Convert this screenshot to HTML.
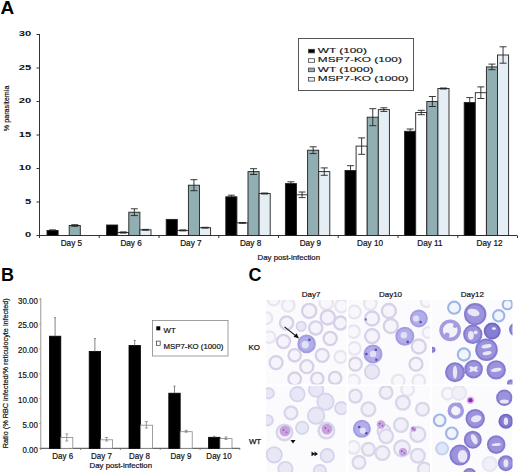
<!DOCTYPE html>
<html><head><meta charset="utf-8"><style>
html,body{margin:0;padding:0;background:#fff;}
svg{display:block;}
</style></head><body>
<svg width="520" height="472" viewBox="0 0 520 472">
<defs><clipPath id="p00"><rect x="266" y="300" width="80.5" height="84.4"/></clipPath><clipPath id="p01"><rect x="348.5" y="300" width="81.5" height="84.4"/></clipPath><clipPath id="p02"><rect x="432" y="300" width="80.5" height="84.4"/></clipPath><clipPath id="p10"><rect x="266" y="386" width="80.5" height="86"/></clipPath><clipPath id="p11"><rect x="348.5" y="386" width="81.5" height="86"/></clipPath><clipPath id="p12"><rect x="432" y="386" width="80.5" height="86"/></clipPath><filter id="bl" x="-5%" y="-5%" width="110%" height="110%"><feGaussianBlur stdDeviation="0.7"/></filter></defs>
<text x="0.6" y="13.9" font-family="Liberation Sans, sans-serif" font-size="19" font-weight="bold">A</text>
<line x1="39.5" y1="34" x2="39.5" y2="235.5" stroke="#333" stroke-width="1"/>
<line x1="36.5" y1="235.5" x2="39.5" y2="235.5" stroke="#333" stroke-width="1"/>
<text transform="translate(31.2,237.1) scale(1.75,1)" text-anchor="end" font-family="Liberation Sans, sans-serif" font-size="6.4" font-weight="bold" fill="#111">0</text>
<line x1="36.5" y1="202.0" x2="39.5" y2="202.0" stroke="#333" stroke-width="1"/>
<text transform="translate(31.2,203.6) scale(1.75,1)" text-anchor="end" font-family="Liberation Sans, sans-serif" font-size="6.4" font-weight="bold" fill="#111">5</text>
<line x1="36.5" y1="168.5" x2="39.5" y2="168.5" stroke="#333" stroke-width="1"/>
<text transform="translate(31.2,170.1) scale(1.75,1)" text-anchor="end" font-family="Liberation Sans, sans-serif" font-size="6.4" font-weight="bold" fill="#111">10</text>
<line x1="36.5" y1="135.0" x2="39.5" y2="135.0" stroke="#333" stroke-width="1"/>
<text transform="translate(31.2,136.6) scale(1.75,1)" text-anchor="end" font-family="Liberation Sans, sans-serif" font-size="6.4" font-weight="bold" fill="#111">15</text>
<line x1="36.5" y1="101.5" x2="39.5" y2="101.5" stroke="#333" stroke-width="1"/>
<text transform="translate(31.2,103.1) scale(1.75,1)" text-anchor="end" font-family="Liberation Sans, sans-serif" font-size="6.4" font-weight="bold" fill="#111">20</text>
<line x1="36.5" y1="68.0" x2="39.5" y2="68.0" stroke="#333" stroke-width="1"/>
<text transform="translate(31.2,69.6) scale(1.75,1)" text-anchor="end" font-family="Liberation Sans, sans-serif" font-size="6.4" font-weight="bold" fill="#111">25</text>
<line x1="36.5" y1="34.5" x2="39.5" y2="34.5" stroke="#333" stroke-width="1"/>
<text transform="translate(31.2,36.1) scale(1.75,1)" text-anchor="end" font-family="Liberation Sans, sans-serif" font-size="6.4" font-weight="bold" fill="#111">30</text>
<text transform="translate(9,108.4) rotate(-90)" text-anchor="middle" font-family="Liberation Sans, sans-serif" font-size="7.2" fill="#111" stroke="#111" stroke-width="0.2">% parasitemia</text>
<line x1="39.0" y1="235.5" x2="517" y2="235.5" stroke="#333" stroke-width="1"/>
<line x1="39.5" y1="235.5" x2="39.5" y2="238.0" stroke="#333" stroke-width="1"/>
<line x1="99.2" y1="235.5" x2="99.2" y2="238.0" stroke="#333" stroke-width="1"/>
<line x1="159.0" y1="235.5" x2="159.0" y2="238.0" stroke="#333" stroke-width="1"/>
<line x1="218.8" y1="235.5" x2="218.8" y2="238.0" stroke="#333" stroke-width="1"/>
<line x1="278.5" y1="235.5" x2="278.5" y2="238.0" stroke="#333" stroke-width="1"/>
<line x1="338.2" y1="235.5" x2="338.2" y2="238.0" stroke="#333" stroke-width="1"/>
<line x1="398.0" y1="235.5" x2="398.0" y2="238.0" stroke="#333" stroke-width="1"/>
<line x1="457.8" y1="235.5" x2="457.8" y2="238.0" stroke="#333" stroke-width="1"/>
<line x1="517.5" y1="235.5" x2="517.5" y2="238.0" stroke="#333" stroke-width="1"/>
<rect x="47.00" y="230.5" width="11.1" height="5.0" fill="#000" stroke="#222" stroke-width="0.9"/>
<path d="M52.55 229.9V230.5M49.05 229.9h7" stroke="#222" stroke-width="0.9" fill="none"/>
<rect x="69.20" y="225.5" width="11.1" height="10.0" fill="#91aeb3" stroke="#222" stroke-width="0.9"/>
<path d="M74.75 224.7V226.3M71.25 224.7h7M71.25 226.3h7" stroke="#222" stroke-width="0.9" fill="none"/>
<text x="71.4" y="246.2" text-anchor="middle" font-family="Liberation Sans, sans-serif" font-size="8.2" fill="#111" stroke="#111" stroke-width="0.2">Day 5</text>
<rect x="106.60" y="225.0" width="11.1" height="10.5" fill="#000" stroke="#222" stroke-width="0.9"/>
<rect x="117.70" y="232.5" width="11.1" height="3.0" fill="#fff" stroke="#222" stroke-width="0.9"/>
<path d="M123.25 231.9V233.1M119.75 231.9h7M119.75 233.1h7" stroke="#222" stroke-width="0.9" fill="none"/>
<rect x="128.80" y="212.2" width="11.1" height="23.3" fill="#91aeb3" stroke="#222" stroke-width="0.9"/>
<path d="M134.35 208.8V215.6M130.85 208.8h7M130.85 215.6h7" stroke="#222" stroke-width="0.9" fill="none"/>
<rect x="139.90" y="229.8" width="11.1" height="5.7" fill="#e5eef5" stroke="#222" stroke-width="0.9"/>
<path d="M145.45 229.4V230.2M141.95 229.4h7M141.95 230.2h7" stroke="#222" stroke-width="0.9" fill="none"/>
<text x="131.1" y="246.2" text-anchor="middle" font-family="Liberation Sans, sans-serif" font-size="8.2" fill="#111" stroke="#111" stroke-width="0.2">Day 6</text>
<rect x="166.20" y="219.4" width="11.1" height="16.1" fill="#000" stroke="#222" stroke-width="0.9"/>
<rect x="177.30" y="230.4" width="11.1" height="5.1" fill="#fff" stroke="#222" stroke-width="0.9"/>
<path d="M182.85 229.9V230.9M179.35 229.9h7M179.35 230.9h7" stroke="#222" stroke-width="0.9" fill="none"/>
<rect x="188.40" y="185.2" width="11.1" height="50.3" fill="#91aeb3" stroke="#222" stroke-width="0.9"/>
<path d="M193.95 179.7V190.7M190.45 179.7h7M190.45 190.7h7" stroke="#222" stroke-width="0.9" fill="none"/>
<rect x="199.50" y="227.7" width="11.1" height="7.8" fill="#e5eef5" stroke="#222" stroke-width="0.9"/>
<path d="M205.05 227.3V228.1M201.55 227.3h7M201.55 228.1h7" stroke="#222" stroke-width="0.9" fill="none"/>
<text x="190.9" y="246.2" text-anchor="middle" font-family="Liberation Sans, sans-serif" font-size="8.2" fill="#111" stroke="#111" stroke-width="0.2">Day 7</text>
<rect x="225.80" y="196.8" width="11.1" height="38.7" fill="#000" stroke="#222" stroke-width="0.9"/>
<path d="M231.35 195.2V196.8M227.85 195.2h7" stroke="#222" stroke-width="0.9" fill="none"/>
<rect x="236.90" y="222.9" width="11.1" height="12.6" fill="#fff" stroke="#222" stroke-width="0.9"/>
<path d="M242.45 222.5V223.3M238.95 222.5h7M238.95 223.3h7" stroke="#222" stroke-width="0.9" fill="none"/>
<rect x="248.00" y="171.6" width="11.1" height="63.9" fill="#91aeb3" stroke="#222" stroke-width="0.9"/>
<path d="M253.55 168.7V174.5M250.05 168.7h7M250.05 174.5h7" stroke="#222" stroke-width="0.9" fill="none"/>
<rect x="259.10" y="193.5" width="11.1" height="42.0" fill="#e5eef5" stroke="#222" stroke-width="0.9"/>
<path d="M264.65 193.0V194.0M261.15 193.0h7M261.15 194.0h7" stroke="#222" stroke-width="0.9" fill="none"/>
<text x="250.6" y="246.2" text-anchor="middle" font-family="Liberation Sans, sans-serif" font-size="8.2" fill="#111" stroke="#111" stroke-width="0.2">Day 8</text>
<rect x="285.40" y="183.6" width="11.1" height="51.9" fill="#000" stroke="#222" stroke-width="0.9"/>
<path d="M290.95 181.8V183.6M287.45 181.8h7" stroke="#222" stroke-width="0.9" fill="none"/>
<rect x="296.50" y="194.8" width="11.1" height="40.7" fill="#fff" stroke="#222" stroke-width="0.9"/>
<path d="M302.05 192.0V197.6M298.55 192.0h7M298.55 197.6h7" stroke="#222" stroke-width="0.9" fill="none"/>
<rect x="307.60" y="150.2" width="11.1" height="85.3" fill="#91aeb3" stroke="#222" stroke-width="0.9"/>
<path d="M313.15 146.8V153.6M309.65 146.8h7M309.65 153.6h7" stroke="#222" stroke-width="0.9" fill="none"/>
<rect x="318.70" y="171.6" width="11.1" height="63.9" fill="#e5eef5" stroke="#222" stroke-width="0.9"/>
<path d="M324.25 167.9V175.3M320.75 167.9h7M320.75 175.3h7" stroke="#222" stroke-width="0.9" fill="none"/>
<text x="310.4" y="246.2" text-anchor="middle" font-family="Liberation Sans, sans-serif" font-size="8.2" fill="#111" stroke="#111" stroke-width="0.2">Day 9</text>
<rect x="345.00" y="170.5" width="11.1" height="65.0" fill="#000" stroke="#222" stroke-width="0.9"/>
<path d="M350.55 165.7V170.5M347.05 165.7h7" stroke="#222" stroke-width="0.9" fill="none"/>
<rect x="356.10" y="146.1" width="11.1" height="89.4" fill="#fff" stroke="#222" stroke-width="0.9"/>
<path d="M361.65 137.9V154.3M358.15 137.9h7M358.15 154.3h7" stroke="#222" stroke-width="0.9" fill="none"/>
<rect x="367.20" y="117.2" width="11.1" height="118.3" fill="#91aeb3" stroke="#222" stroke-width="0.9"/>
<path d="M372.75 108.7V125.7M369.25 108.7h7M369.25 125.7h7" stroke="#222" stroke-width="0.9" fill="none"/>
<rect x="378.30" y="109.6" width="11.1" height="125.9" fill="#e5eef5" stroke="#222" stroke-width="0.9"/>
<path d="M383.85 107.8V111.4M380.35 107.8h7M380.35 111.4h7" stroke="#222" stroke-width="0.9" fill="none"/>
<text x="370.1" y="246.2" text-anchor="middle" font-family="Liberation Sans, sans-serif" font-size="8.2" fill="#111" stroke="#111" stroke-width="0.2">Day 10</text>
<rect x="404.60" y="131.3" width="11.1" height="104.2" fill="#000" stroke="#222" stroke-width="0.9"/>
<path d="M410.15 129.0V131.3M406.65 129.0h7" stroke="#222" stroke-width="0.9" fill="none"/>
<rect x="415.70" y="112.5" width="11.1" height="123.0" fill="#fff" stroke="#222" stroke-width="0.9"/>
<path d="M421.25 110.3V114.7M417.75 110.3h7M417.75 114.7h7" stroke="#222" stroke-width="0.9" fill="none"/>
<rect x="426.80" y="101.5" width="11.1" height="134.0" fill="#91aeb3" stroke="#222" stroke-width="0.9"/>
<path d="M432.35 96.5V106.5M428.85 96.5h7M428.85 106.5h7" stroke="#222" stroke-width="0.9" fill="none"/>
<rect x="437.90" y="88.5" width="11.1" height="147.0" fill="#e5eef5" stroke="#222" stroke-width="0.9"/>
<path d="M443.45 88.0V89.0M439.95 88.0h7M439.95 89.0h7" stroke="#222" stroke-width="0.9" fill="none"/>
<text x="429.9" y="246.2" text-anchor="middle" font-family="Liberation Sans, sans-serif" font-size="8.2" fill="#111" stroke="#111" stroke-width="0.2">Day 11</text>
<rect x="464.20" y="102.5" width="11.1" height="133.0" fill="#000" stroke="#222" stroke-width="0.9"/>
<path d="M469.75 97.6V102.5M466.25 97.6h7" stroke="#222" stroke-width="0.9" fill="none"/>
<rect x="475.30" y="92.7" width="11.1" height="142.8" fill="#fff" stroke="#222" stroke-width="0.9"/>
<path d="M480.85 86.9V98.5M477.35 86.9h7M477.35 98.5h7" stroke="#222" stroke-width="0.9" fill="none"/>
<rect x="486.40" y="66.9" width="11.1" height="168.6" fill="#91aeb3" stroke="#222" stroke-width="0.9"/>
<path d="M491.95 64.1V69.7M488.45 64.1h7M488.45 69.7h7" stroke="#222" stroke-width="0.9" fill="none"/>
<rect x="497.50" y="55.0" width="11.1" height="180.5" fill="#e5eef5" stroke="#222" stroke-width="0.9"/>
<path d="M503.05 46.8V63.2M499.55 46.8h7M499.55 63.2h7" stroke="#222" stroke-width="0.9" fill="none"/>
<text x="489.6" y="246.2" text-anchor="middle" font-family="Liberation Sans, sans-serif" font-size="8.2" fill="#111" stroke="#111" stroke-width="0.2">Day 12</text>
<text x="288.8" y="260.2" text-anchor="middle" font-family="Liberation Sans, sans-serif" font-size="7.8" fill="#111" stroke="#111" stroke-width="0.2">Day post-infection</text>
<rect x="298.5" y="38.5" width="115" height="52" fill="#fff" stroke="#555" stroke-width="1"/>
<rect x="308.5" y="49.3" width="6" height="3.6" fill="#000" stroke="#444" stroke-width="0.8"/>
<text transform="translate(317.8,52.9) scale(1.85,1)" font-family="Liberation Sans, sans-serif" font-size="6.4" fill="#111" stroke="#111" stroke-width="0.12">WT (100)</text>
<rect x="308.5" y="58.7" width="6" height="3.6" fill="#fff" stroke="#444" stroke-width="0.8"/>
<text transform="translate(317.8,62.3) scale(1.85,1)" font-family="Liberation Sans, sans-serif" font-size="6.4" fill="#111" stroke="#111" stroke-width="0.12">MSP7-KO (100)</text>
<rect x="308.5" y="68.1" width="6" height="3.6" fill="#91aeb3" stroke="#444" stroke-width="0.8"/>
<text transform="translate(317.8,71.7) scale(1.85,1)" font-family="Liberation Sans, sans-serif" font-size="6.4" fill="#111" stroke="#111" stroke-width="0.12">WT (1000)</text>
<rect x="308.5" y="77.5" width="6" height="3.6" fill="#e5eef5" stroke="#444" stroke-width="0.8"/>
<text transform="translate(317.8,81.1) scale(1.85,1)" font-family="Liberation Sans, sans-serif" font-size="6.4" fill="#111" stroke="#111" stroke-width="0.12">MSP7-KO (1000)</text>
<text x="1" y="280.8" font-family="Liberation Sans, sans-serif" font-size="18" font-weight="bold">B</text>
<line x1="40.8" y1="298" x2="40.8" y2="448.3" stroke="#999" stroke-width="1"/>
<line x1="39.3" y1="448.3" x2="40.8" y2="448.3" stroke="#999" stroke-width="1"/>
<text transform="translate(37.8,452.7) scale(0.95,1)" text-anchor="end" font-family="Liberation Sans, sans-serif" font-size="8.3" fill="#111" stroke="#111" stroke-width="0.2">0.00</text>
<line x1="39.3" y1="423.4" x2="40.8" y2="423.4" stroke="#999" stroke-width="1"/>
<text transform="translate(37.8,427.8) scale(0.95,1)" text-anchor="end" font-family="Liberation Sans, sans-serif" font-size="8.3" fill="#111" stroke="#111" stroke-width="0.2">5.00</text>
<line x1="39.3" y1="398.6" x2="40.8" y2="398.6" stroke="#999" stroke-width="1"/>
<text transform="translate(37.8,403.0) scale(0.95,1)" text-anchor="end" font-family="Liberation Sans, sans-serif" font-size="8.3" fill="#111" stroke="#111" stroke-width="0.2">10.00</text>
<line x1="39.3" y1="373.8" x2="40.8" y2="373.8" stroke="#999" stroke-width="1"/>
<text transform="translate(37.8,378.1) scale(0.95,1)" text-anchor="end" font-family="Liberation Sans, sans-serif" font-size="8.3" fill="#111" stroke="#111" stroke-width="0.2">15.00</text>
<line x1="39.3" y1="348.9" x2="40.8" y2="348.9" stroke="#999" stroke-width="1"/>
<text transform="translate(37.8,353.3) scale(0.95,1)" text-anchor="end" font-family="Liberation Sans, sans-serif" font-size="8.3" fill="#111" stroke="#111" stroke-width="0.2">20.00</text>
<line x1="39.3" y1="324.1" x2="40.8" y2="324.1" stroke="#999" stroke-width="1"/>
<text transform="translate(37.8,328.4) scale(0.95,1)" text-anchor="end" font-family="Liberation Sans, sans-serif" font-size="8.3" fill="#111" stroke="#111" stroke-width="0.2">25.00</text>
<line x1="39.3" y1="299.2" x2="40.8" y2="299.2" stroke="#999" stroke-width="1"/>
<text transform="translate(37.8,303.6) scale(0.95,1)" text-anchor="end" font-family="Liberation Sans, sans-serif" font-size="8.3" fill="#111" stroke="#111" stroke-width="0.2">30.00</text>
<text transform="translate(8.4,373.2) rotate(-90)" text-anchor="middle" font-family="Liberation Sans, sans-serif" font-size="7.5" fill="#111" stroke="#111" stroke-width="0.2" textLength="150" lengthAdjust="spacingAndGlyphs">Ratio (% RBC infected/% reticulocyte infected)</text>
<line x1="40.8" y1="448.3" x2="239.8" y2="448.3" stroke="#444" stroke-width="1"/>
<line x1="40.8" y1="448.3" x2="40.8" y2="449.8" stroke="#666" stroke-width="1"/>
<line x1="80.6" y1="448.3" x2="80.6" y2="449.8" stroke="#666" stroke-width="1"/>
<line x1="120.4" y1="448.3" x2="120.4" y2="449.8" stroke="#666" stroke-width="1"/>
<line x1="160.2" y1="448.3" x2="160.2" y2="449.8" stroke="#666" stroke-width="1"/>
<line x1="200.0" y1="448.3" x2="200.0" y2="449.8" stroke="#666" stroke-width="1"/>
<line x1="239.8" y1="448.3" x2="239.8" y2="449.8" stroke="#666" stroke-width="1"/>
<rect x="49.40" y="336.2" width="11.4" height="112.1" fill="#000" stroke="#000" stroke-width="0.8"/>
<path d="M55.10 317.7V336.2M54.10 317.7h2" stroke="#666" stroke-width="0.8" fill="none"/>
<rect x="60.80" y="437.5" width="12" height="10.8" fill="#fff" stroke="#888" stroke-width="0.8"/>
<path d="M66.80 433.9V441.0M65.30 433.9h3M65.30 441.0h3" stroke="#777" stroke-width="0.7" fill="none"/>
<text transform="translate(62.7,459.1) scale(0.95,1)" text-anchor="middle" font-family="Liberation Sans, sans-serif" font-size="8.4" fill="#111" stroke="#111" stroke-width="0.2">Day 6</text>
<rect x="89.20" y="351.4" width="11.4" height="96.9" fill="#000" stroke="#000" stroke-width="0.8"/>
<path d="M94.90 338.6V351.4M93.90 338.6h2" stroke="#666" stroke-width="0.8" fill="none"/>
<rect x="100.60" y="439.8" width="12" height="8.5" fill="#fff" stroke="#888" stroke-width="0.8"/>
<path d="M106.60 437.5V441.0M105.10 437.5h3M105.10 441.0h3" stroke="#777" stroke-width="0.7" fill="none"/>
<text transform="translate(101.4,459.1) scale(0.95,1)" text-anchor="middle" font-family="Liberation Sans, sans-serif" font-size="8.4" fill="#111" stroke="#111" stroke-width="0.2">Day 7</text>
<rect x="129.00" y="345.5" width="11.4" height="102.8" fill="#000" stroke="#000" stroke-width="0.8"/>
<path d="M134.70 340.4V345.5M133.70 340.4h2" stroke="#666" stroke-width="0.8" fill="none"/>
<rect x="140.40" y="425.2" width="12" height="23.1" fill="#fff" stroke="#888" stroke-width="0.8"/>
<path d="M146.40 421.6V428.0M144.90 421.6h3M144.90 428.0h3" stroke="#777" stroke-width="0.7" fill="none"/>
<text transform="translate(139.4,459.1) scale(0.95,1)" text-anchor="middle" font-family="Liberation Sans, sans-serif" font-size="8.4" fill="#111" stroke="#111" stroke-width="0.2">Day 8</text>
<rect x="168.80" y="393.2" width="11.4" height="55.1" fill="#000" stroke="#000" stroke-width="0.8"/>
<path d="M174.50 386.1V393.2M173.50 386.1h2" stroke="#666" stroke-width="0.8" fill="none"/>
<rect x="180.20" y="431.7" width="12" height="16.6" fill="#fff" stroke="#888" stroke-width="0.8"/>
<path d="M186.20 430.3V432.2M184.70 430.3h3M184.70 432.2h3" stroke="#777" stroke-width="0.7" fill="none"/>
<text transform="translate(181.0,459.1) scale(0.95,1)" text-anchor="middle" font-family="Liberation Sans, sans-serif" font-size="8.4" fill="#111" stroke="#111" stroke-width="0.2">Day 9</text>
<rect x="208.60" y="437.3" width="11.4" height="11.0" fill="#000" stroke="#000" stroke-width="0.8"/>
<path d="M214.30 436.3V437.3M213.30 436.3h2" stroke="#666" stroke-width="0.8" fill="none"/>
<rect x="220.00" y="438.6" width="12" height="9.7" fill="#fff" stroke="#888" stroke-width="0.8"/>
<path d="M226.00 437.0V439.5M224.50 437.0h3M224.50 439.5h3" stroke="#777" stroke-width="0.7" fill="none"/>
<text transform="translate(219.0,459.1) scale(0.95,1)" text-anchor="middle" font-family="Liberation Sans, sans-serif" font-size="8.4" fill="#111" stroke="#111" stroke-width="0.2">Day 10</text>
<text x="120.8" y="468.1" text-anchor="middle" font-family="Liberation Sans, sans-serif" font-size="7.8" fill="#111" stroke="#111" stroke-width="0.2">Day post-infection</text>
<rect x="152.5" y="320.5" width="75.5" height="35.5" fill="#fff" stroke="#888" stroke-width="0.8"/>
<rect x="156.3" y="326.3" width="4" height="4" fill="#000"/>
<rect x="156.6" y="341.1" width="3.6" height="4.2" fill="#fff" stroke="#333" stroke-width="0.7"/>
<text x="163.6" y="333" font-family="Liberation Sans, sans-serif" font-size="7.8" fill="#111" stroke="#111" stroke-width="0.2">WT</text>
<text x="163.6" y="348.5" font-family="Liberation Sans, sans-serif" font-size="7.8" fill="#111" stroke="#111" stroke-width="0.2">MSP7-KO (1000)</text>
<text x="248.5" y="281.3" font-family="Liberation Sans, sans-serif" font-size="18" font-weight="bold">C</text>
<text x="311" y="296.5" text-anchor="middle" font-family="Liberation Sans, sans-serif" font-size="8" fill="#111" stroke="#111" stroke-width="0.2">Day7</text>
<text x="390.5" y="296.5" text-anchor="middle" font-family="Liberation Sans, sans-serif" font-size="8" fill="#111" stroke="#111" stroke-width="0.2">Day10</text>
<text x="472.4" y="296.5" text-anchor="middle" font-family="Liberation Sans, sans-serif" font-size="8" fill="#111" stroke="#111" stroke-width="0.2">Day12</text>
<text x="248.4" y="349.8" font-family="Liberation Sans, sans-serif" font-size="7.9" fill="#111" stroke="#111" stroke-width="0.25">KO</text>
<text x="248.9" y="443.7" font-family="Liberation Sans, sans-serif" font-size="7.9" fill="#111" stroke="#111" stroke-width="0.25">WT</text>
<g clip-path="url(#p00)"><rect x="266" y="300" width="80.5" height="84.4" fill="#fbfafd"/><g filter="url(#bl)">
<circle cx="288.2" cy="305.3" r="6.3" fill="#f8f7fb" stroke="#e8e5f1" stroke-width="2.3"/>
<circle cx="273.7" cy="299.6" r="5.8" fill="#f8f7fb" stroke="#e8e5f1" stroke-width="2.3"/>
<circle cx="309.2" cy="310.9" r="7.1" fill="#f6f4fa" stroke="#d6d1e7" stroke-width="2.3"/>
<circle cx="326.2" cy="302.8" r="6.8" fill="#f8f7fb" stroke="#e8e5f1" stroke-width="2.3"/>
<circle cx="327.8" cy="317.4" r="7.1" fill="#f6f4fa" stroke="#d6d1e7" stroke-width="2.3"/>
<circle cx="341.5" cy="306.0" r="6.3" fill="#f8f7fb" stroke="#e8e5f1" stroke-width="2.3"/>
<circle cx="266.4" cy="318.2" r="5.8" fill="#f8f7fb" stroke="#e8e5f1" stroke-width="2.3"/>
<circle cx="286.6" cy="323.0" r="6.6" fill="#f6f4fa" stroke="#d6d1e7" stroke-width="2.3"/>
<circle cx="301.2" cy="326.3" r="4.7" fill="#e8e7f5" stroke="#d6d4ec" stroke-width="1.8"/>
<circle cx="315.7" cy="327.9" r="6.6" fill="#f6f4fa" stroke="#d6d1e7" stroke-width="2.3"/>
<circle cx="340.5" cy="323.0" r="6.5" fill="#f6f4fa" stroke="#d6d1e7" stroke-width="2.3"/>
<circle cx="269.5" cy="337.1" r="5.8" fill="#f8f7fb" stroke="#e8e5f1" stroke-width="2.3"/>
<circle cx="283.5" cy="341.5" r="6.6" fill="#f6f4fa" stroke="#d6d1e7" stroke-width="2.3"/>
<circle cx="306.6" cy="343.9" r="8.3" fill="#b2aee9" stroke="#a39de2" stroke-width="2"/><circle cx="305.2" cy="344.8" r="3.7" fill="#e2e0f8"/><circle cx="309.4" cy="339.7" r="1.3" fill="#5a50a8"/>
<circle cx="330.2" cy="338.5" r="6.6" fill="#f6f4fa" stroke="#d6d1e7" stroke-width="2.3"/>
<circle cx="294.7" cy="355.3" r="6.2" fill="#f6f4fa" stroke="#d6d1e7" stroke-width="2.3"/>
<circle cx="322.2" cy="355.3" r="6.5" fill="#f6f4fa" stroke="#d6d1e7" stroke-width="2.3"/>
<circle cx="340.5" cy="357.0" r="6.0" fill="#f8f7fb" stroke="#e8e5f1" stroke-width="2.3"/>
<circle cx="276.1" cy="362.6" r="6.5" fill="#f6f4fa" stroke="#d6d1e7" stroke-width="2.3"/>
<circle cx="306.8" cy="366.7" r="6.5" fill="#f6f4fa" stroke="#d6d1e7" stroke-width="2.3"/>
<circle cx="294.7" cy="378.8" r="6.3" fill="#f6f4fa" stroke="#d6d1e7" stroke-width="2.3"/>
<circle cx="317.3" cy="378.8" r="6.2" fill="#f6f4fa" stroke="#d6d1e7" stroke-width="2.3"/>
<circle cx="335.1" cy="378.0" r="6.2" fill="#f6f4fa" stroke="#d6d1e7" stroke-width="2.3"/>
</g></g>
<g clip-path="url(#p01)"><rect x="348.5" y="300" width="81.5" height="84.4" fill="#fbfafd"/><g filter="url(#bl)">
<circle cx="370.3" cy="303.6" r="6.3" fill="#f8f7fb" stroke="#e8e5f1" stroke-width="2.3"/>
<circle cx="354.4" cy="312.0" r="6.3" fill="#f8f7fb" stroke="#e8e5f1" stroke-width="2.3"/>
<circle cx="372.1" cy="318.5" r="7.0" fill="#f6f4fa" stroke="#d6d1e7" stroke-width="2.3"/>
<circle cx="365.8" cy="319.5" r="1.2" fill="#7a70c0"/>
<circle cx="388.9" cy="311.0" r="7.0" fill="#f6f4fa" stroke="#d6d1e7" stroke-width="2.3"/>
<circle cx="390.8" cy="326.0" r="7.0" fill="#f6f4fa" stroke="#d6d1e7" stroke-width="2.3"/>
<circle cx="418.8" cy="318.5" r="8.0" fill="#b2aee9" stroke="#a39de2" stroke-width="2"/><circle cx="416.1" cy="318.5" r="3.1" fill="#e2e0f8"/><circle cx="420.6" cy="322.1" r="1.3" fill="#5a50a8"/>
<circle cx="426.2" cy="301.7" r="5.3" fill="#f8f7fb" stroke="#e8e5f1" stroke-width="2.3"/>
<circle cx="353.5" cy="331.6" r="6.3" fill="#f8f7fb" stroke="#e8e5f1" stroke-width="2.3"/>
<circle cx="372.1" cy="336.2" r="7.0" fill="#f6f4fa" stroke="#d6d1e7" stroke-width="2.3"/>
<circle cx="404.8" cy="336.2" r="8.5" fill="#b2aee9" stroke="#a39de2" stroke-width="2"/><circle cx="403.9" cy="335.2" r="3.3" fill="#e2e0f8"/><circle cx="407.7" cy="341.9" r="1.3" fill="#5a50a8"/>
<circle cx="428.0" cy="332.5" r="5.3" fill="#f8f7fb" stroke="#e8e5f1" stroke-width="2.3"/>
<circle cx="354.4" cy="348.4" r="6.3" fill="#f8f7fb" stroke="#e8e5f1" stroke-width="2.3"/>
<circle cx="373.0" cy="354.0" r="8.5" fill="#b2aee9" stroke="#a39de2" stroke-width="2"/><circle cx="373.0" cy="354.0" r="3.3" fill="#e2e0f8"/><circle cx="366.4" cy="354.0" r="1.3" fill="#5a50a8"/><circle cx="375.9" cy="349.7" r="1.3" fill="#5a50a8"/><circle cx="376.3" cy="359.7" r="1.3" fill="#5a50a8"/>
<circle cx="418.8" cy="346.5" r="7.0" fill="#f6f4fa" stroke="#d6d1e7" stroke-width="2.3"/>
<circle cx="355.3" cy="364.2" r="6.5" fill="#f6f4fa" stroke="#d6d1e7" stroke-width="2.3"/>
<circle cx="372.1" cy="371.7" r="7.2" fill="#e8e7f5" stroke="#d6d4ec" stroke-width="1.8"/>
<circle cx="416.0" cy="364.2" r="6.5" fill="#f6f4fa" stroke="#d6d1e7" stroke-width="2.3"/>
<circle cx="398.2" cy="381.0" r="6.3" fill="#f8f7fb" stroke="#e8e5f1" stroke-width="2.3"/>
<circle cx="418.8" cy="381.0" r="6.3" fill="#f8f7fb" stroke="#e8e5f1" stroke-width="2.3"/>
<circle cx="353.5" cy="381.0" r="6.3" fill="#f8f7fb" stroke="#e8e5f1" stroke-width="2.3"/>
</g></g>
<g clip-path="url(#p02)"><rect x="432" y="300" width="80.5" height="84.4" fill="#fbfafd"/><g filter="url(#bl)">
<circle cx="454.2" cy="307.7" r="6.1" fill="#f0f4fc" stroke="#9fb5e4" stroke-width="2.1"/>
<circle cx="475.2" cy="314.2" r="10.2" fill="#9b94dc" stroke="#847cd0" stroke-width="2"/><ellipse cx="473.5" cy="312.5" rx="6.2" ry="3.6" transform="rotate(15 473.5 312.5)" fill="#ebe6f7"/>
<circle cx="498.7" cy="315.8" r="5.7" fill="#f0f4fc" stroke="#9fb5e4" stroke-width="2.1"/>
<circle cx="507.5" cy="304.5" r="4.8" fill="#f0f4fc" stroke="#9fb5e4" stroke-width="2.1"/>
<circle cx="450.2" cy="330.3" r="9.1" fill="#f3f1fa" stroke="#a39de0" stroke-width="3.6"/>
<circle cx="447.0" cy="335.0" r="2.5" fill="#a49ce0"/>
<circle cx="455.0" cy="326.0" r="2.0" fill="#a49ce0"/>
<circle cx="472.8" cy="334.3" r="8.7" fill="#9b94dc" stroke="#847cd0" stroke-width="2"/><ellipse cx="470.9" cy="335.3" rx="2.9" ry="4.4" transform="rotate(0 470.9 335.3)" fill="#ebe6f7"/><ellipse cx="475.7" cy="332.4" rx="1.9" ry="1.9" transform="rotate(0 475.7 332.4)" fill="#ebe6f7"/>
<circle cx="492.2" cy="331.1" r="7.5" fill="#857ed2" stroke="#726bc6" stroke-width="2"/><ellipse cx="493.9" cy="328.6" rx="2.1" ry="1.3" transform="rotate(0 493.9 328.6)" fill="#ebe6f7"/>
<circle cx="516.0" cy="329.5" r="6.0" fill="#9b94dc" stroke="#847cd0" stroke-width="2"/>
<circle cx="486.5" cy="349.7" r="10.3" fill="#9b94dc" stroke="#847cd0" stroke-width="2"/><ellipse cx="486.5" cy="346.3" rx="5.1" ry="2.0" transform="rotate(-10 486.5 346.3)" fill="#ebe6f7"/><ellipse cx="487.1" cy="353.1" rx="4.5" ry="2.0" transform="rotate(-10 487.1 353.1)" fill="#ebe6f7"/>
<circle cx="463.9" cy="354.5" r="6.1" fill="#f0f4fc" stroke="#9fb5e4" stroke-width="2.1"/>
<circle cx="432.5" cy="349.7" r="2.0" fill="#9b94dc" stroke="#847cd0" stroke-width="2"/>
<circle cx="455.0" cy="372.3" r="9.0" fill="#9b94dc" stroke="#847cd0" stroke-width="2"/><ellipse cx="455.0" cy="372.3" rx="2.2" ry="6.5" transform="rotate(0 455.0 372.3)" fill="#ebe6f7"/>
<circle cx="473.6" cy="369.1" r="8.3" fill="#9b94dc" stroke="#847cd0" stroke-width="2"/><ellipse cx="473.6" cy="369.1" rx="4.7" ry="1.7" transform="rotate(30 473.6 369.1)" fill="#ebe6f7"/><ellipse cx="473.6" cy="369.1" rx="4.7" ry="1.7" transform="rotate(-30 473.6 369.1)" fill="#ebe6f7"/>
<circle cx="496.2" cy="369.9" r="8.7" fill="#9b94dc" stroke="#847cd0" stroke-width="2"/><ellipse cx="496.2" cy="369.9" rx="5.3" ry="1.9" transform="rotate(-10 496.2 369.9)" fill="#ebe6f7"/>
<circle cx="511.0" cy="383.5" r="3.0" fill="#9b94dc" stroke="#847cd0" stroke-width="2"/>
</g></g>
<g clip-path="url(#p10)"><rect x="266" y="386" width="80.5" height="86" fill="#fbfafd"/><g filter="url(#bl)">
<circle cx="268.7" cy="393.3" r="5.2" fill="#e8e7f5" stroke="#d6d4ec" stroke-width="1.8"/>
<circle cx="297.5" cy="394.2" r="7.2" fill="#e8e7f5" stroke="#d6d4ec" stroke-width="1.8"/>
<circle cx="316.1" cy="389.6" r="7.2" fill="#e8e7f5" stroke="#d6d4ec" stroke-width="1.8"/>
<circle cx="325.5" cy="401.7" r="8.2" fill="#e8e7f5" stroke="#d6d4ec" stroke-width="1.8"/>
<circle cx="341.3" cy="408.2" r="6.2" fill="#e8e7f5" stroke="#d6d4ec" stroke-width="1.8"/>
<circle cx="291.0" cy="412.9" r="6.4" fill="#f1eff8" stroke="#d9d6ea" stroke-width="2.3"/>
<circle cx="316.1" cy="415.7" r="8.2" fill="#e8e7f5" stroke="#d6d4ec" stroke-width="1.8"/>
<circle cx="267.7" cy="420.3" r="5.2" fill="#e8e7f5" stroke="#d6d4ec" stroke-width="1.8"/>
<circle cx="284.5" cy="432.4" r="7.8" fill="#f2f0f8" stroke="#d8d4ea" stroke-width="2.4"/><circle cx="285.0" cy="430.9" r="5.4" fill="#c8a2dc"/><circle cx="283.5" cy="429.9" r="1" fill="#9a60b8"/><circle cx="286.5" cy="432.4" r="0.9" fill="#9a60b8"/>
<circle cx="302.2" cy="427.8" r="6.2" fill="#e8e7f5" stroke="#d6d4ec" stroke-width="1.8"/>
<circle cx="326.4" cy="430.6" r="7.8" fill="#f2f0f8" stroke="#d8d4ea" stroke-width="2.4"/><circle cx="326.9" cy="429.1" r="5.4" fill="#c8a2dc"/><circle cx="325.4" cy="428.1" r="1" fill="#9a60b8"/><circle cx="328.4" cy="430.6" r="0.9" fill="#9a60b8"/>
<circle cx="274.2" cy="454.8" r="7.7" fill="#e8e7f5" stroke="#d6d4ec" stroke-width="1.8"/>
<circle cx="327.3" cy="455.7" r="6.7" fill="#e8e7f5" stroke="#d6d4ec" stroke-width="1.8"/>
<circle cx="285.4" cy="469.0" r="7.2" fill="#e8e7f5" stroke="#d6d4ec" stroke-width="1.8"/>
<circle cx="319.9" cy="471.0" r="6.2" fill="#e8e7f5" stroke="#d6d4ec" stroke-width="1.8"/>
</g></g>
<g clip-path="url(#p11)"><rect x="348.5" y="386" width="81.5" height="86" fill="#fbfafd"/><g filter="url(#bl)">
<circle cx="355.3" cy="396.1" r="6.4" fill="#f1eff8" stroke="#d9d6ea" stroke-width="2.3"/>
<circle cx="386.1" cy="392.4" r="6.4" fill="#f1eff8" stroke="#d9d6ea" stroke-width="2.3"/>
<circle cx="407.6" cy="389.6" r="6.3" fill="#f8f7fb" stroke="#e8e5f1" stroke-width="2.3"/>
<circle cx="402.9" cy="402.7" r="6.9" fill="#f1eff8" stroke="#d9d6ea" stroke-width="2.3"/>
<circle cx="368.4" cy="409.2" r="6.9" fill="#f1eff8" stroke="#d9d6ea" stroke-width="2.3"/>
<circle cx="422.5" cy="409.2" r="6.4" fill="#f1eff8" stroke="#d9d6ea" stroke-width="2.3"/>
<circle cx="361.9" cy="428.8" r="8.0" fill="#b2aee9" stroke="#a39de2" stroke-width="2"/><circle cx="362.8" cy="430.6" r="3.1" fill="#e2e0f8"/><circle cx="359.2" cy="427.0" r="1.3" fill="#5a50a8"/><circle cx="366.4" cy="433.3" r="1.3" fill="#5a50a8"/>
<circle cx="384.0" cy="431.0" r="6.4" fill="#f1eff8" stroke="#d9d6ea" stroke-width="2.3"/>
<circle cx="381.0" cy="424.5" r="4.2" fill="#c8a6e0"/><circle cx="379.7" cy="423.7" r="0.9" fill="#8a50b0"/><circle cx="382.5" cy="425.8" r="0.8" fill="#8a50b0"/>
<circle cx="386.1" cy="436.2" r="6.9" fill="#f1eff8" stroke="#d9d6ea" stroke-width="2.3"/>
<circle cx="401.0" cy="425.0" r="6.9" fill="#f1eff8" stroke="#d9d6ea" stroke-width="2.3"/>
<circle cx="417.8" cy="434.4" r="7.4" fill="#f1eff8" stroke="#d9d6ea" stroke-width="2.3"/>
<circle cx="413.5" cy="429.0" r="2.8" fill="#c8a6e0"/><circle cx="412.7" cy="428.4" r="0.9" fill="#8a50b0"/><circle cx="414.5" cy="429.8" r="0.8" fill="#8a50b0"/>
<circle cx="353.5" cy="447.4" r="6.3" fill="#f8f7fb" stroke="#e8e5f1" stroke-width="2.3"/>
<circle cx="368.4" cy="449.3" r="6.4" fill="#f1eff8" stroke="#d9d6ea" stroke-width="2.3"/>
<circle cx="382.4" cy="453.0" r="6.9" fill="#f1eff8" stroke="#d9d6ea" stroke-width="2.3"/>
<circle cx="402.0" cy="448.4" r="7.9" fill="#f1eff8" stroke="#d9d6ea" stroke-width="2.3"/>
<circle cx="403.0" cy="452.0" r="4.0" fill="#c8a6e0"/><circle cx="401.8" cy="451.2" r="0.9" fill="#8a50b0"/><circle cx="404.4" cy="453.2" r="0.8" fill="#8a50b0"/>
<circle cx="417.8" cy="455.8" r="6.9" fill="#f1eff8" stroke="#d9d6ea" stroke-width="2.3"/>
<circle cx="359.0" cy="462.4" r="6.4" fill="#f1eff8" stroke="#d9d6ea" stroke-width="2.3"/>
<circle cx="424.4" cy="469.0" r="6.4" fill="#f1eff8" stroke="#d9d6ea" stroke-width="2.3"/>
</g></g>
<g clip-path="url(#p12)"><rect x="432" y="386" width="80.5" height="86" fill="#fbfafd"/><g filter="url(#bl)">
<circle cx="447.8" cy="393.7" r="5.8" fill="#f8f7fb" stroke="#e8e5f1" stroke-width="2.3"/>
<circle cx="459.1" cy="392.9" r="7.0" fill="#f0f0f8" stroke="#e6e6f2" stroke-width="2"/>
<circle cx="470.4" cy="400.2" r="3.8" fill="#e0b8e8"/><circle cx="470.4" cy="400.2" r="2.3" fill="#8a2ab8"/>
<circle cx="504.3" cy="397.7" r="7.2" fill="#9b94dc" stroke="#847cd0" stroke-width="2"/><ellipse cx="504.3" cy="401.4" rx="4.5" ry="2.0" transform="rotate(0 504.3 401.4)" fill="#ebe6f7"/>
<circle cx="455.8" cy="410.7" r="6.5" fill="#f3f1fa" stroke="#a39de0" stroke-width="3.6"/>
<circle cx="459.0" cy="405.0" r="2.5" fill="#a49ce0"/>
<circle cx="439.7" cy="420.3" r="5.8" fill="#f0f4fc" stroke="#9fb5e4" stroke-width="2.1"/>
<circle cx="475.2" cy="418.7" r="8.7" fill="#9b94dc" stroke="#847cd0" stroke-width="2"/><ellipse cx="476.2" cy="418.7" rx="5.3" ry="3.4" transform="rotate(-15 476.2 418.7)" fill="#ebe6f7"/>
<circle cx="505.9" cy="421.2" r="6.5" fill="#857ed2" stroke="#726bc6" stroke-width="2"/><ellipse cx="505.9" cy="421.2" rx="2.2" ry="3.8" transform="rotate(0 505.9 421.2)" fill="#ebe6f7"/>
<circle cx="451.8" cy="433.3" r="5.8" fill="#f0f4fc" stroke="#9fb5e4" stroke-width="2.1"/>
<circle cx="472.8" cy="439.7" r="8.0" fill="#9b94dc" stroke="#847cd0" stroke-width="2"/><ellipse cx="474.2" cy="439.2" rx="2.7" ry="5.4" transform="rotate(-25 474.2 439.2)" fill="#ebe6f7"/>
<circle cx="442.1" cy="448.6" r="6.0" fill="#dfe6f8" stroke="#c4d0f0" stroke-width="2"/>
<circle cx="459.9" cy="455.1" r="9.5" fill="#9b94dc" stroke="#847cd0" stroke-width="2"/><ellipse cx="462.5" cy="456.2" rx="4.7" ry="6.3" transform="rotate(0 462.5 456.2)" fill="#ebe6f7"/>
<circle cx="496.2" cy="444.6" r="8.3" fill="#9b94dc" stroke="#847cd0" stroke-width="2"/><ellipse cx="496.2" cy="444.6" rx="4.7" ry="1.4" transform="rotate(-5 496.2 444.6)" fill="#ebe6f7"/>
<circle cx="489.8" cy="464.0" r="7.0" fill="#f0f0f8" stroke="#e6e6f2" stroke-width="2"/>
<circle cx="505.9" cy="463.2" r="7.0" fill="#9b94dc" stroke="#847cd0" stroke-width="2"/><ellipse cx="505.9" cy="463.2" rx="2.4" ry="4.0" transform="rotate(0 505.9 463.2)" fill="#ebe6f7"/>
<circle cx="469.6" cy="475.0" r="6.0" fill="#9b94dc" stroke="#847cd0" stroke-width="2"/>
</g></g>
<path d="M284.5 326.9L296.5 336.4" stroke="#111" stroke-width="1.1"/>
<path d="M299 338.4L293.6 336.8L296.6 333.2Z" fill="#111"/>
<path d="M290.5 440L295.5 440L293 443.5Z" fill="#111"/>
<path d="M311.5 451.5L315 454L311.5 456.3Z M314.5 451.5L318 454L314.5 456.3Z" fill="#111"/>
</svg>
</body></html>
